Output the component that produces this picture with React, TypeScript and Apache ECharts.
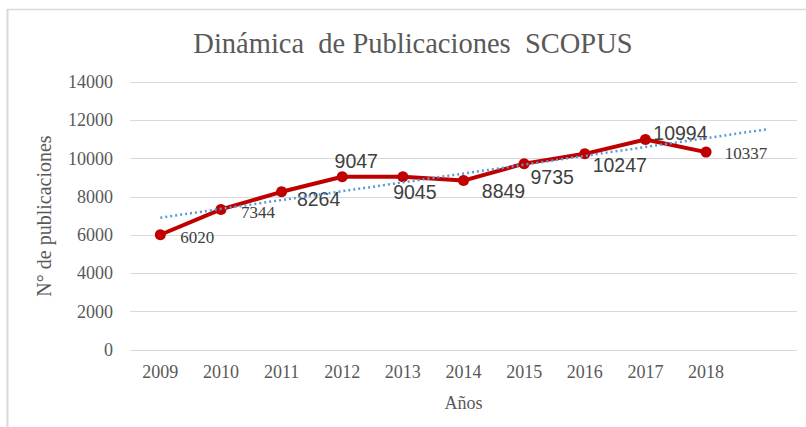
import React, { useEffect, useRef } from "react";
import * as echarts from "echarts";

const years = ["2009", "2010", "2011", "2012", "2013", "2014", "2015", "2016", "2017", "2018", ""];
const publications = [6020, 7344, 8264, 9047, 9045, 8849, 9735, 10247, 10994, 10337];
const trendStart = 6910;
const trendEnd = 11528;
const yTicks = [0, 2000, 4000, 6000, 8000, 10000, 12000, 14000];

// label styling (offsets in px relative to the point, font family)
const labelOffsets: [number, number][] = [
  [37, 3], [37, 3], [37, 7], [14, -16], [12, 15], [40, 10], [28, 13], [35, 11], [35, -7], [40, 1],
];
const labelSerif = [true, true, false, false, false, false, false, false, false, true];

const SERIF = "'Liberation Serif', 'Times New Roman', serif";
const SANS = "'Liberation Sans', Arial, sans-serif";

export default function App() {
  const ref = useRef<HTMLDivElement>(null);
  useEffect(() => {
    if (!ref.current) return;
    const chart = echarts.init(ref.current, undefined, { renderer: "svg" });
    const mainData = publications.map((v, i) => ({
      value: v,
      label: {
        show: true,
        position: "inside",
        offset: labelOffsets[i],
        fontFamily: labelSerif[i] ? SERIF : SANS,
        fontSize: labelSerif[i] ? 17 : 19.5,
        color: "#404040",
      },
    }));
    const trendData: (number | null)[] = years.map(() => null);
    trendData[0] = trendStart;
    trendData[years.length - 1] = trendEnd;

    chart.setOption({
      animation: false,
      backgroundColor: "#ffffff",
      title: {
        text: "Dinámica  de Publicaciones  SCOPUS",
        left: 413,
        top: 29,
        padding: 0,
        textAlign: "center",
        textStyle: { fontFamily: SERIF, fontSize: 28.5, fontWeight: "normal", color: "#595959" },
      },
      graphic: [
        { type: "line", shape: { x1: 7, y1: 9.5, x2: 806, y2: 9.5 }, style: { stroke: "#d9d9d9", lineWidth: 1.5 } },
        { type: "line", shape: { x1: 7.5, y1: 9, x2: 7.5, y2: 427 }, style: { stroke: "#d9d9d9", lineWidth: 2 } },
      ],
      grid: { left: 130, right: 9, top: 82, bottom: 77 },
      xAxis: {
        type: "category",
        data: years,
        boundaryGap: true,
        axisLine: { show: false },
        axisTick: { show: false },
        axisLabel: { fontFamily: SERIF, fontSize: 18, color: "#595959", margin: 13 },
        name: "Años",
        nameLocation: "middle",
        nameGap: 44,
        nameTextStyle: { fontFamily: SERIF, fontSize: 18, color: "#595959" },
      },
      yAxis: {
        type: "value",
        min: yTicks[0],
        max: yTicks[yTicks.length - 1],
        interval: 2000,
        axisLine: { show: false },
        axisTick: { show: false },
        splitLine: { lineStyle: { color: "#d9d9d9", width: 1 } },
        axisLabel: {
          fontFamily: SERIF,
          fontSize: 18,
          color: "#595959",
          margin: 17,
          formatter: (v: number) => String(v),
        },
        name: "N° de publicaciones",
        nameLocation: "middle",
        nameGap: 76,
        nameTextStyle: { fontFamily: SERIF, fontSize: 20, color: "#595959" },
      },
      series: [
        {
          type: "line",
          data: mainData,
          symbol: "circle",
          symbolSize: 11,
          itemStyle: { color: "#c00000" },
          lineStyle: { color: "#c00000", width: 4 },
          z: 2,
        },
        {
          type: "line",
          data: trendData,
          connectNulls: true,
          symbol: "none",
          lineStyle: { color: "#5b9bd5", width: 2.5, type: [2, 3] },
          z: 3,
          silent: true,
        },
      ],
    });
    return () => chart.dispose();
  }, []);
  return (
    <div style={{ position: "fixed", left: 0, top: 0, width: 806, height: 427 }}>
      <div ref={ref} style={{ width: 806, height: 427 }} />
    </div>
  );
}
